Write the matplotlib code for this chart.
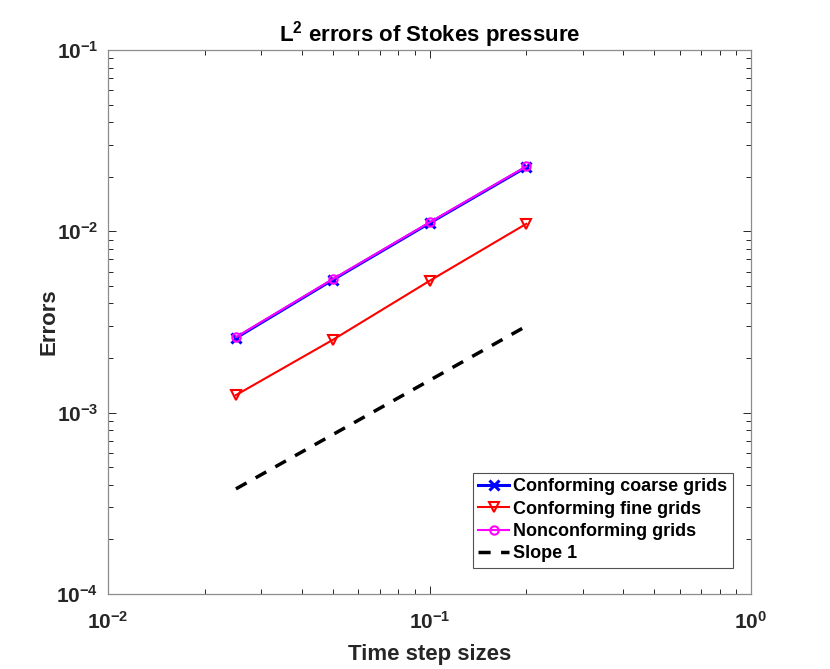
import matplotlib
matplotlib.use("Agg")
import matplotlib.pyplot as plt
from matplotlib.ticker import LogLocator, FixedLocator, NullFormatter

plt.rcParams['font.family'] = ['Liberation Sans', 'DejaVu Sans']
plt.rcParams['font.weight'] = 'bold'
plt.rcParams['mathtext.fontset'] = 'custom'
plt.rcParams['mathtext.rm'] = 'Liberation Sans:bold'
plt.rcParams['mathtext.bf'] = 'Liberation Sans:bold'
plt.rcParams['mathtext.it'] = 'Liberation Sans:bold'
plt.rcParams['mathtext.default'] = 'bf'

h = [0.025, 0.05, 0.1, 0.2]
coarse = [2.58e-3, 5.40e-3, 1.11e-2, 2.26e-2]
fine = [1.25e-3, 2.52e-3, 5.33e-3, 1.10e-2]
nonconf = [2.61e-3, 5.45e-3, 1.12e-2, 2.28e-2]
slope = [3.8e-4, 3.0e-3]
slope_h = [0.025, 0.2]

xticks = [1e-2, 1e-1, 1e0]
xticklabels = ['$10^{-2}$', '$10^{-1}$', '$10^{0}$']
yticks = [1e-4, 1e-3, 1e-2, 1e-1]
yticklabels = ['$10^{-4}$', '$10^{-3}$', '$10^{-2}$', '$10^{-1}$']

fig = plt.figure(figsize=(8.3, 6.69), dpi=100)
ax = fig.add_axes([108/830, 1-594/669, (751-108)/830, (594-50)/669])

ax.plot(h, coarse, color='blue', marker='x', lw=2.2, ms=7, mew=2.2, label='Conforming coarse grids')
ax.plot(h, fine, color='red', marker='v', lw=1.5, ms=7.5, mfc='none', mew=1.5, label='Conforming fine grids')
ax.plot(h, nonconf, color='magenta', marker='o', lw=1.5, ms=6, mfc='none', mew=1.5, label='Nonconforming grids')
ax.plot(slope_h, slope, color='black', ls=(0, (3.5, 3)), lw=2.5, label='Slope 1')

ax.set_xscale('log')
ax.set_yscale('log')
ax.set_xlim(1e-2, 1e0)
ax.set_ylim(1e-4, 1e-1)
ax.xaxis.set_major_locator(FixedLocator(xticks))
ax.yaxis.set_major_locator(FixedLocator(yticks))
ax.set_xticklabels(xticklabels)
ax.set_yticklabels(yticklabels)
ax.xaxis.set_minor_locator(LogLocator(base=10, subs=range(2, 10)))
ax.yaxis.set_minor_locator(LogLocator(base=10, subs=range(2, 10)))
ax.xaxis.set_minor_formatter(NullFormatter())
ax.yaxis.set_minor_formatter(NullFormatter())

ax.tick_params(which='both', direction='in', top=True, right=True, colors='#262626', labelcolor='#262626')
ax.tick_params(which='major', length=6, width=0.7, labelsize=15)
ax.tick_params(axis='x', which='major', pad=12)
ax.tick_params(axis='y', which='major', pad=7)
ax.tick_params(which='minor', length=3.5, width=0.7)
for s in ax.spines.values():
    s.set_color('#8c8c8c')
    s.set_linewidth(0.9)

ax.set_xlabel('Time step sizes', fontsize=16, fontweight='bold', color='#262626', labelpad=8)
ax.set_ylabel('Errors', fontsize=16, fontweight='bold', color='#262626')
ax.yaxis.set_label_coords(-0.075, 0.5)
ax.set_title('$L^2$ errors of Stokes pressure', fontsize=16, fontweight='bold', color='black', pad=3)

leg = ax.legend(loc='lower right', bbox_to_anchor=(0.972, 0.048), fontsize=13, frameon=True, fancybox=False,
                edgecolor='#262626', handlelength=1.7, handletextpad=0.25, borderpad=0.3, labelspacing=0.3,
                borderaxespad=0)
leg.get_frame().set_linewidth(0.8)

fig.savefig('out.png', dpi=100)
